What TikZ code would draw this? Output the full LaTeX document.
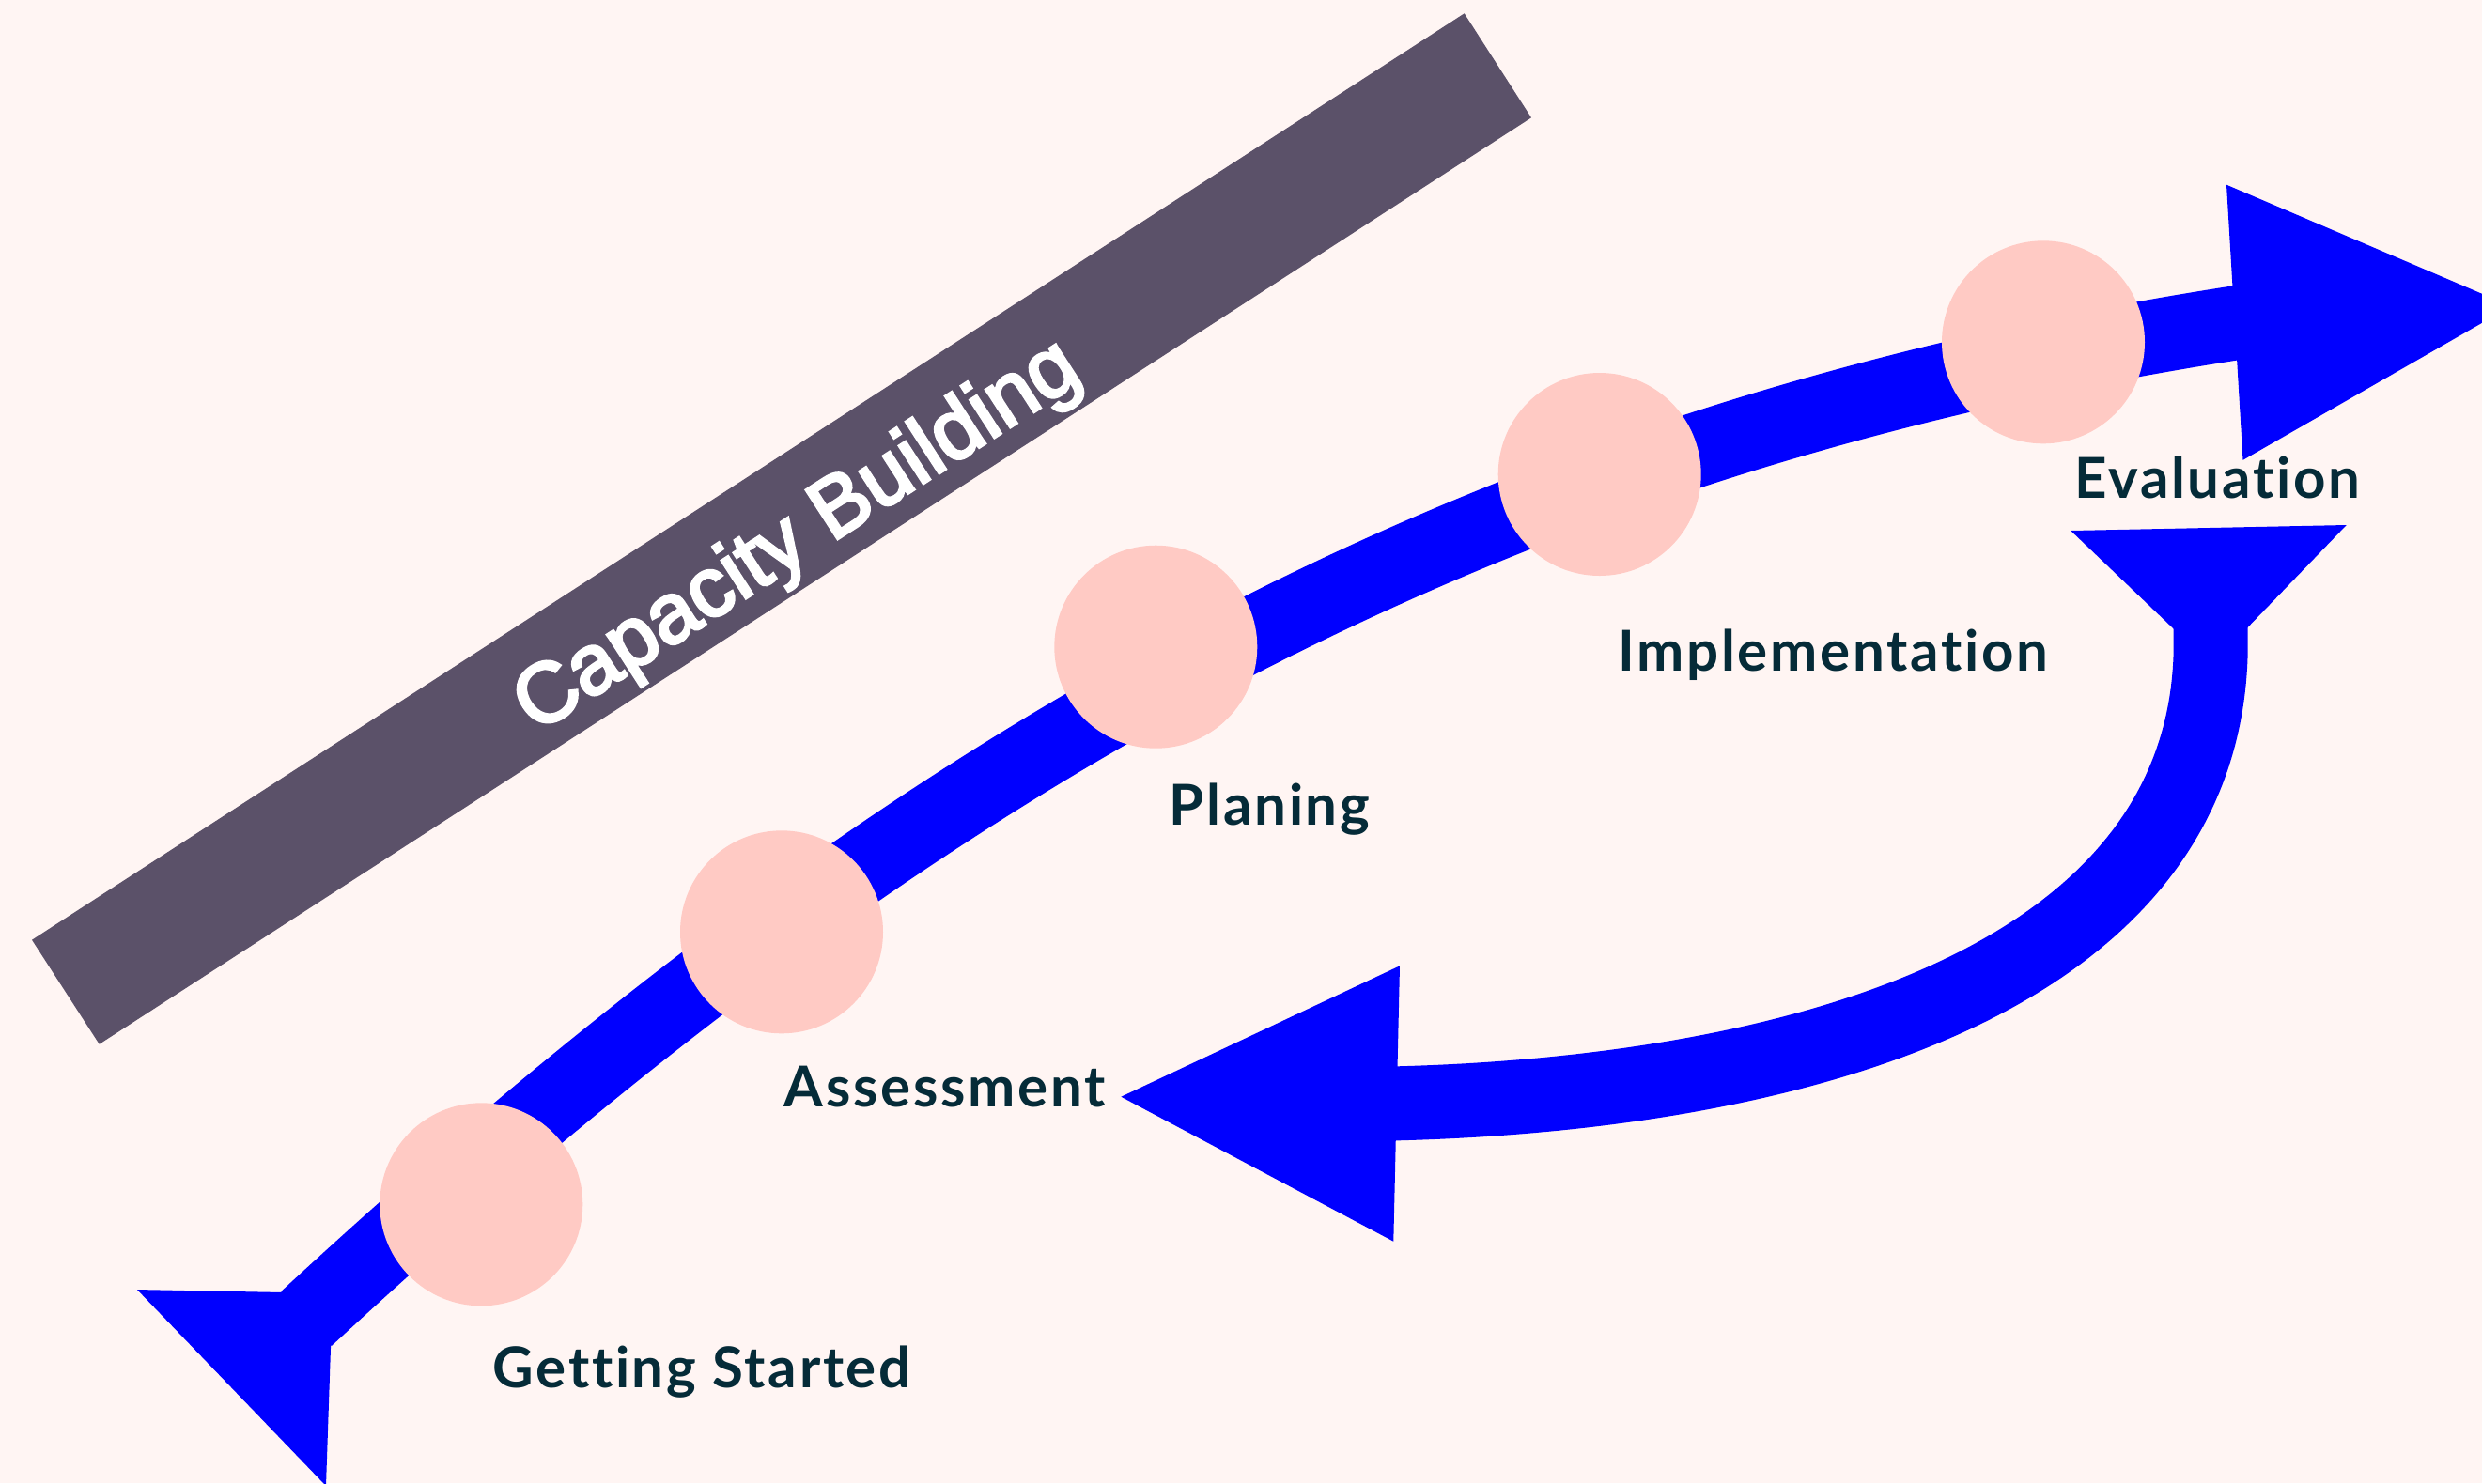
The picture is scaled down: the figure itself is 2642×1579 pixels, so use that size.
\documentclass[tikz,border=0pt]{standalone}
\usepackage{fontspec}
\setmainfont{Liberation Sans}
\newfontfamily\capfont{Liberation Sans}[FakeBold=3.5]
\newfontfamily\labfont{Lato}[Ligatures={NoCommon,NoContextual},LetterSpace=4.5]
\definecolor{bgcol}{HTML}{FFF5F3}
\definecolor{barcol}{HTML}{5B5169}
\definecolor{dotcol}{HTML}{FFCAC4}
\definecolor{flowcol}{HTML}{0000FF}
\definecolor{labcol}{HTML}{052B38}
\begin{document}
\begin{tikzpicture}[x=0.3pt,y=-0.3pt,
  flow/.style={draw=flowcol,line width=23.7pt,line cap=butt,line join=round},
  headfill/.style={fill=flowcol},
  dot/.style={circle,fill=dotcol,minimum size=64.8pt,inner sep=0pt},
  lab/.style={anchor=base west,inner sep=0pt,text=labcol,font=\labfont\bfseries\fontsize{18}{20}\selectfont},
  captext/.style={text=white,rotate=32.9,inner sep=0pt,font=\capfont\fontsize{27}{30}\selectfont}]
\fill[bgcol] (0,0) rectangle (2642,1579);
\clip (0,0) rectangle (2642,1579);
% capacity building bar
\fill[barcol] (34,1000.7) -- (105.7,1111.7) -- (1630,125.3) -- (1558.7,14.3) -- cycle;
\node[captext] (cap) at (850,573) {Capacity Building};
% main flow
\coordinate (mstart) at (326,1404);
\coordinate (mend) at (2385,343);
\draw[flow] (mstart) .. controls (950,827) and (1545,472) .. (mend);
\fill[headfill] (146,1373) -- (354,1377) -- (347,1582) -- cycle;
\fill[headfill] (2370,196.7) -- (2673,326) -- (2387.5,489.8) -- cycle;
% return flow
\coordinate (rstart) at (2353,665);
\coordinate (rbend) at (2353,700);
\coordinate (rend) at (1480,1175);
\draw[flow] (rstart) -- (rbend) .. controls (2340,1050) and (1900,1165) .. (rend);
\fill[headfill] (2204.3,565) -- (2497.7,559) -- (2354,708) -- cycle;
\fill[headfill] (1193.3,1167.7) -- (1490,1028.3) -- (1483.3,1321.7) -- cycle;
% stages
\node[dot] (gs) at (512.3,1282.3) {};
\node[dot] (as) at (832,992.3) {};
\node[dot] (pl) at (1230.3,688.7) {};
\node[dot] (im) at (1702.7,505) {};
\node[dot] (ev) at (2175,364.3) {};
\node[lab] (gsl) at (524,1477.7) {Getting Started};
\node[lab] (asl) at (834.3,1178.3) {Assessment};
\node[lab] (pll) at (1244.3,878.3) {Planing};
\node[lab] (iml) at (1721.7,714) {Implementation};
\node[lab] (evl) at (2207.6,530.8) {Evaluation};
\end{tikzpicture}
\end{document}
